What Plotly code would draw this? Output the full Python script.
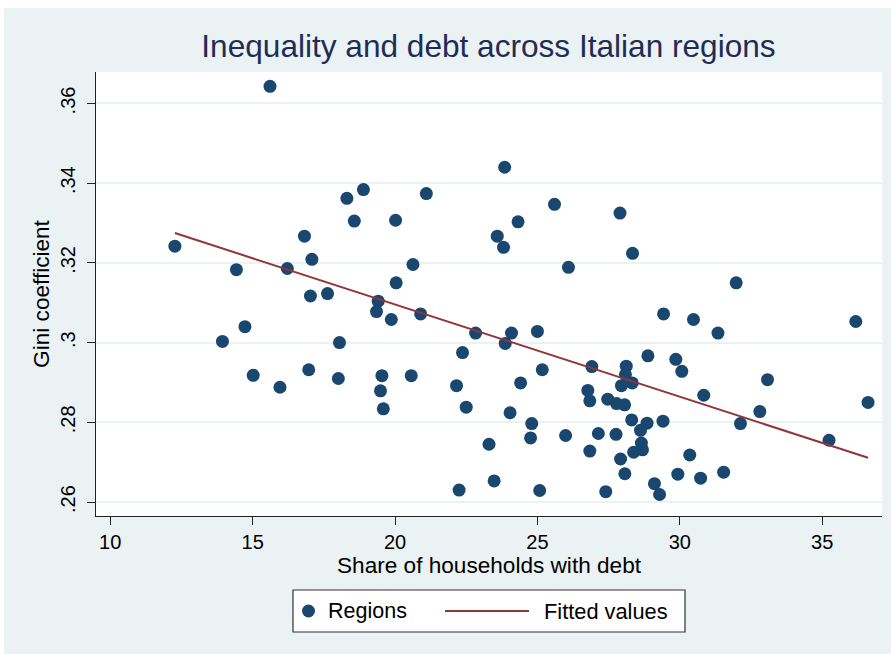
import plotly.graph_objects as go

# share of households with debt (%) and Gini coefficient, one pair per region/year
debt_share = [
    15.61, 18.89, 18.31, 18.57, 16.82, 12.27, 17.08, 14.43, 16.22, 17.63,
    17.03, 19.41, 19.35, 19.87, 14.73, 13.94, 18.05, 15.02, 15.96, 16.97,
    18.01, 19.54, 19.49, 19.59, 20.04, 23.85, 21.10, 20.02, 25.60, 27.90,
    24.32, 23.59, 23.81, 28.34, 20.63, 26.09, 31.98, 20.90, 22.83, 24.09,
    25.00, 23.87, 22.37, 29.43, 30.48, 31.34, 36.18, 28.88, 29.86, 30.07,
    26.91, 28.12, 28.09, 27.95, 28.33, 25.17, 20.57, 22.16, 24.41, 26.77,
    26.84, 27.47, 27.78, 28.06, 22.50, 24.04, 24.80, 24.76, 25.99, 27.14,
    27.76, 28.31, 28.85, 28.62, 28.65, 28.69, 28.38, 29.41, 23.30, 26.84,
    27.92, 30.35, 28.07, 29.93, 30.73, 31.54, 29.11, 29.29, 27.40, 22.25,
    23.48, 25.08, 33.08, 30.84, 36.61, 32.81, 32.13, 35.24,
]
gini = [
    .3643, .3384, .3362, .3305, .3267, .3242, .3209, .3183, .3186, .3123,
    .3117, .3104, .3078, .3058, .3040, .3003, .3000, .2918, .2888, .2932,
    .2910, .2917, .2879, .2834, .3150, .3440, .3374, .3307, .3347, .3325,
    .3303, .3267, .3239, .3224, .3196, .3189, .3150, .3072, .3024, .3024,
    .3028, .2998, .2975, .3072, .3058, .3024, .3053, .2967, .2958, .2928,
    .2940, .2941, .2920, .2892, .2899, .2932, .2917, .2892, .2899, .2880,
    .2854, .2858, .2847, .2844, .2838, .2824, .2797, .2761, .2767, .2772,
    .2770, .2806, .2798, .2780, .2748, .2731, .2725, .2803, .2745, .2728,
    .2708, .2718, .2671, .2670, .2660, .2675, .2646, .2619, .2626, .2630,
    .2653, .2629, .2907, .2868, .2850, .2827, .2797, .2755,
]

# fitted values (line spans the data range)
fit_x = [12.27, 36.61]
fit_y = [.3275, .2711]

x_ticks = [10, 15, 20, 25, 30, 35]
y_ticks = [.26, .28, .30, .32, .34, .36]
y_tick_text = ['.26', '.28', '.3', '.32', '.34', '.36']

navy = '#1A476F'
maroon = '#90353B'
bg = '#EAF2F3'
font = 'Liberation Sans, Arial, sans-serif'

W, H = 891, 654
L, R, T, B = 96, 9, 72, 138


def px(x):
    return (x - L) / (W - L - R)


def py(y):
    return (H - B - y) / (H - T - B)


fig = go.Figure()
fig.add_trace(go.Scatter(x=debt_share, y=gini, mode='markers', name='Regions',
                         marker=dict(color=navy, size=13, line=dict(width=0))))
fig.add_trace(go.Scatter(x=fit_x, y=fit_y, mode='lines', name='Fitted values',
                         line=dict(color=maroon, width=2)))

# white frame strips at the top and left of the graph region
fig.add_shape(type='rect', xref='paper', yref='paper', x0=px(0), x1=px(W),
              y0=py(8), y1=py(0), fillcolor='white', line_width=0, layer='below')
fig.add_shape(type='rect', xref='paper', yref='paper', x0=px(0), x1=px(4),
              y0=py(H), y1=py(0), fillcolor='white', line_width=0, layer='below')

# legend box drawn by hand (Stata style)
fig.add_shape(type='rect', xref='paper', yref='paper', x0=px(293), x1=px(685),
              y0=py(632), y1=py(590), fillcolor='white',
              line=dict(color='#333333', width=1.2))
fig.add_shape(type='circle', xref='paper', yref='paper', xsizemode='pixel', ysizemode='pixel',
              xanchor=px(308.5), yanchor=py(611), x0=-6.5, x1=6.5, y0=-6.5, y1=6.5,
              fillcolor=navy, line_width=0)
fig.add_shape(type='line', xref='paper', yref='paper', x0=px(445), x1=px(529),
              y0=py(611), y1=py(611), line=dict(color=maroon, width=2))
fig.add_annotation(xref='paper', yref='paper', x=px(326), y=py(611), text='Regions',
                   showarrow=False, xanchor='left', yanchor='middle',
                   font=dict(size=21.5, color='black', family=font))
fig.add_annotation(xref='paper', yref='paper', x=px(542), y=py(611), text='Fitted values',
                   showarrow=False, xanchor='left', yanchor='middle',
                   font=dict(size=21.8, color='black', family=font))

fig.update_layout(
    width=W, height=H,
    margin=dict(l=L, r=R, t=T, b=B),
    paper_bgcolor=bg,
    plot_bgcolor='white',
    showlegend=False,
    font=dict(family=font, color='black'),
    title=dict(text='Inequality and debt across Italian regions',
               x=px(488.5), xref='paper', xanchor='center',
               y=1 - 46 / H, yref='container', yanchor='middle',
               font=dict(size=31.6, color='#1F2D56', family=font)),
    xaxis=dict(range=[9.5, 37.1], tickvals=x_ticks, showgrid=False, zeroline=False,
               showline=True, linecolor='#222222', linewidth=1.3,
               ticks='outside', ticklen=8, tickwidth=1.3, tickcolor='#222222',
               tickfont=dict(size=20),
               title=dict(text='Share of households with debt', font=dict(size=22.6), standoff=3)),
    yaxis=dict(range=[.2565, .3679], tickvals=y_ticks, ticktext=y_tick_text, tickangle=-90,
               showgrid=True, gridcolor=bg, gridwidth=1.5, zeroline=False,
               showline=True, linecolor='#222222', linewidth=1.3,
               ticks='outside', ticklen=8, tickwidth=1.3, tickcolor='#222222',
               tickfont=dict(size=20), ticklabelstandoff=4,
               title=dict(text='Gini coefficient', font=dict(size=22.6), standoff=0)),
)

fig.write_html('out.html', config={'displayModeBar': False},
               post_script="document.body.style.margin='0';")
